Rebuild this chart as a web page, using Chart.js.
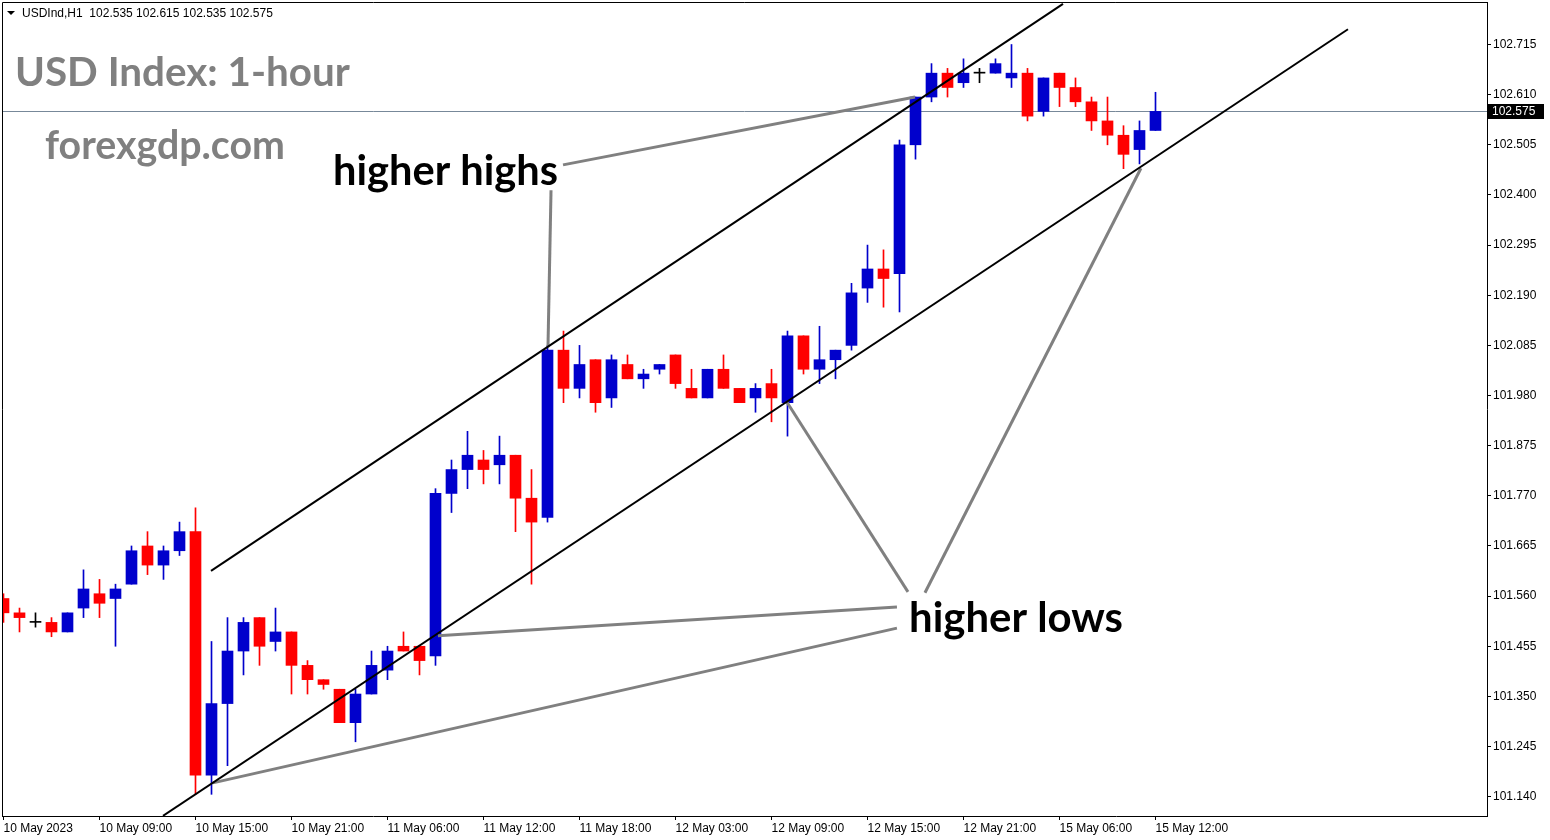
<!DOCTYPE html>
<html>
<head>
<meta charset="utf-8">
<script src="https://cdn.jsdelivr.net/npm/chart.js@4.4.0/dist/chart.umd.min.js"></script>
<style>
  html, body { margin: 0; padding: 0; background: #fff; }
  #wrap { width: 1550px; height: 840px; position: relative; }
</style>
</head>
<body>
<div id="wrap"><canvas id="usdChart"></canvas></div>
<script>
// USDInd H1 candles, 10 May 03:00 -> 15 May 12:00
const opens = [
  101.555, 101.525, 101.505, 101.505, 101.485, 101.535, 101.565, 101.555, 101.585, 101.665,
  101.625, 101.655, 101.695, 101.185, 101.335, 101.445, 101.515, 101.465, 101.485, 101.415,
  101.385, 101.365, 101.295, 101.355, 101.405, 101.455, 101.455, 101.435, 101.775, 101.825,
  101.845, 101.835, 101.855, 101.765, 101.725, 102.075, 101.995, 102.055, 101.975, 102.045,
  102.015, 102.035, 102.065, 101.995, 101.975, 102.035, 101.995, 101.975, 102.005, 101.965,
  102.105, 102.035, 102.055, 102.085, 102.205, 102.245, 102.235, 102.505, 102.605, 102.655,
  102.635, 102.655, 102.655, 102.645, 102.655, 102.575, 102.655, 102.625, 102.595, 102.555,
  102.525, 102.495, 102.535
];
const highs = [
  101.565, 101.535, 101.525, 101.515, 101.525, 101.615, 101.595, 101.585, 101.665, 101.695,
  101.665, 101.715, 101.745, 101.465, 101.515, 101.515, 101.515, 101.535, 101.485, 101.425,
  101.385, 101.365, 101.365, 101.445, 101.455, 101.485, 101.455, 101.785, 101.845, 101.905,
  101.865, 101.895, 101.855, 101.825, 102.085, 102.115, 102.085, 102.055, 102.065, 102.065,
  102.035, 102.045, 102.065, 102.035, 102.035, 102.065, 101.995, 102.005, 102.035, 102.115,
  102.105, 102.125, 102.075, 102.215, 102.295, 102.285, 102.515, 102.605, 102.675, 102.665,
  102.685, 102.665, 102.685, 102.715, 102.665, 102.645, 102.655, 102.645, 102.605, 102.605,
  102.545, 102.555, 102.615
];
const lows = [
  101.505, 101.485, 101.495, 101.475, 101.485, 101.515, 101.515, 101.455, 101.585, 101.605,
  101.595, 101.645, 101.145, 101.145, 101.205, 101.395, 101.415, 101.445, 101.355, 101.355,
  101.365, 101.295, 101.255, 101.355, 101.385, 101.445, 101.395, 101.415, 101.735, 101.785,
  101.795, 101.795, 101.695, 101.585, 101.715, 101.965, 101.975, 101.945, 101.955, 102.015,
  101.995, 102.025, 101.995, 101.975, 101.975, 101.995, 101.965, 101.945, 101.925, 101.895,
  102.025, 102.005, 102.015, 102.075, 102.175, 102.165, 102.155, 102.475, 102.595, 102.605,
  102.625, 102.635, 102.655, 102.625, 102.555, 102.565, 102.585, 102.585, 102.535, 102.505,
  102.455, 102.465, 102.535
];
const closes = [
  101.525, 101.515, 101.505, 101.485, 101.525, 101.575, 101.545, 101.575, 101.655, 101.625,
  101.655, 101.695, 101.185, 101.335, 101.445, 101.505, 101.455, 101.485, 101.415, 101.385,
  101.375, 101.295, 101.355, 101.415, 101.445, 101.445, 101.425, 101.775, 101.825, 101.855,
  101.825, 101.855, 101.765, 101.715, 102.075, 101.995, 102.045, 101.965, 102.055, 102.015,
  102.025, 102.045, 102.005, 101.975, 102.035, 101.995, 101.965, 101.995, 101.975, 102.105,
  102.035, 102.055, 102.075, 102.195, 102.245, 102.225, 102.505, 102.605, 102.655, 102.625,
  102.655, 102.655, 102.675, 102.655, 102.565, 102.645, 102.625, 102.595, 102.555, 102.525,
  102.485, 102.535, 102.575
];

const xTickIndex = [0, 6, 12, 18, 24, 30, 36, 42, 48, 54, 60, 66, 72];
const xTickLabels = [
  "10 May 2023", "10 May 09:00", "10 May 15:00", "10 May 21:00", "11 May 06:00",
  "11 May 12:00", "11 May 18:00", "12 May 03:00", "12 May 09:00", "12 May 15:00",
  "12 May 21:00", "15 May 06:00", "15 May 12:00"
];
const priceTicks = [
  101.140, 101.245, 101.350, 101.455, 101.560, 101.665, 101.770, 101.875,
  101.980, 102.085, 102.190, 102.295, 102.400, 102.505, 102.610, 102.715
];

// drawn lines, as [candle index, price] pairs
const channelUpper = [[12.97, 101.613], [66.22, 102.800]];
const channelLower = [[9.97, 101.100], [84.03, 102.747]];
const highPointers = [
  [[34.97, 102.463], [56.97, 102.605]],
  [[34.22, 102.410], [34.03, 102.081]]
];
const lowPointers = [
  [[48.97, 101.966], [56.53, 101.569]],
  [[71.09, 102.456], [57.59, 101.567]],
  [[27.15, 101.477], [55.84, 101.537]],
  [[13.09, 101.169], [55.84, 101.493]]
];
const highLabel = { text: "higher highs", at: [20.6, 102.421] };
const lowLabel = { text: "higher lows", at: [56.6, 101.485] };

const BLUE = "#0000cc", RED = "#ff0000";
const last = closes.length - 1;

function candleColor(i) {
    if (closes[i] > opens[i]) return BLUE;
    if (closes[i] < opens[i]) return RED;
    return "#000000";
}
const colors = opens.map((o, i) => candleColor(i));

function lineSet(pts, color, width) {
    return {
        type: "line",
        data: pts.map((p) => ({ x: p[0], y: p[1] })),
        borderColor: color,
        borderWidth: width,
        pointRadius: 0,
        fill: false,
        tension: 0,
        order: 1,
    };
}

function fitSize(ctx, text, width, family) {
    ctx.font = "bold 100px " + family;
    return (100 * width) / ctx.measureText(text).width;
}

// no extra room for edge labels, the plot goes right to the frame
function noPad(s) {
    s.paddingTop = 0;
    s.paddingBottom = 0;
    s.paddingLeft = 0;
    s.paddingRight = 0;
}

const overlay = {
    id: "overlay",
    beforeDatasetsDraw(chart) {
        const { ctx, chartArea, scales } = chart;
        const y = Math.round(scales.y.getPixelForValue(closes[last])) + 0.5;
        ctx.save();
        ctx.strokeStyle = "#778899";
        ctx.lineWidth = 1;
        ctx.beginPath();
        ctx.moveTo(chartArea.left, y);
        ctx.lineTo(chartArea.right, y);
        ctx.stroke();
        ctx.restore();
    },
    afterDatasetsDraw(chart) {
        const { ctx, scales } = chart;
        ctx.save();
        ctx.fillStyle = "#808080";
        ctx.textBaseline = "alphabetic";
        let s = fitSize(ctx, "USD Index: 1-hour", 335, "Lato");
        ctx.font = "bold " + s + "px Lato";
        ctx.fillText("USD Index: 1-hour", 15, 86);
        s = fitSize(ctx, "forexgdp.com", 240, "Lato");
        ctx.font = "bold " + s + "px Lato";
        ctx.fillText("forexgdp.com", 45, 159);

        ctx.fillStyle = "#000000";
        [[highLabel, 225], [lowLabel, 214]].forEach(([lab, w]) => {
            const size = fitSize(ctx, lab.text, w, "Lato");
            ctx.font = "bold " + size + "px Lato";
            ctx.fillText(lab.text, scales.x.getPixelForValue(lab.at[0]), scales.y.getPixelForValue(lab.at[1]));
        });
        ctx.restore();
    },
    afterDraw(chart) {
        const { ctx, chartArea, scales } = chart;
        ctx.save();
        ctx.strokeStyle = "#000";
        ctx.lineWidth = 1;
        ctx.beginPath();
        ctx.moveTo(chartArea.left + 0.5, chartArea.bottom);
        ctx.lineTo(chartArea.left + 0.5, chartArea.top + 0.5);
        ctx.lineTo(chartArea.right, chartArea.top + 0.5);
        ctx.stroke();

        // header
        ctx.fillStyle = "#000";
        ctx.beginPath();
        ctx.moveTo(7, 11);
        ctx.lineTo(15, 11);
        ctx.lineTo(11, 15);
        ctx.closePath();
        ctx.fill();
        ctx.font = "12px 'Liberation Sans'";
        ctx.textBaseline = "alphabetic";
        const f = (v) => v.toFixed(3);
        ctx.fillText("USDInd,H1  " + [opens[last], highs[last], lows[last], closes[last]].map(f).join(" "), 22, 17);

        // current price box
        const y = Math.round(scales.y.getPixelForValue(closes[last]));
        ctx.fillRect(chartArea.right, y - 7, 57, 15);
        ctx.fillStyle = "#fff";
        ctx.textBaseline = "middle";
        ctx.fillText(f(closes[last]), chartArea.right + 5, y + 1);
        ctx.restore();
    },
};

const datasets = [
    {
        type: "bar",
        data: opens.map((o, i) => ({ x: i, y: [o, closes[i]] })),
        backgroundColor: colors,
        barThickness: 11,
        minBarLength: 1,
        grouped: false,
        order: 2,
    },
    {
        type: "bar",
        data: lows.map((l, i) => ({ x: i, y: [l, highs[i]] })),
        backgroundColor: colors,
        barThickness: 1,
        grouped: false,
        order: 3,
    },
    lineSet(channelUpper, "#000000", 2),
    lineSet(channelLower, "#000000", 2),
];
highPointers.concat(lowPointers).forEach((p) => datasets.push(lineSet(p, "#808080", 3)));

const axisFont = { family: "'Liberation Sans'", size: 12 };

new Chart(document.getElementById("usdChart"), {
    type: "bar",
    data: { datasets: datasets },
    options: {
        responsive: true,
        maintainAspectRatio: false,
        animation: false,
        layout: { padding: { left: 2, top: 2, right: 0, bottom: 0 } },
        plugins: { legend: { display: false }, tooltip: { enabled: false } },
        scales: {
            x: {
                type: "linear",
                offset: false,
                min: -1.5 / 16,
                max: -1.5 / 16 + 1485 / 16,
                afterBuildTicks: (s) => { s.ticks = xTickIndex.map((v) => ({ value: v })); },
                afterFit: (s) => { s.height = 24; noPad(s); },
                grid: { offset: false, drawOnChartArea: false, drawTicks: true, tickLength: 4, color: "#000" },
                border: { display: true, color: "#000" },
                ticks: {
                    align: "start",
                    autoSkip: false,
                    maxRotation: 0,
                    padding: 1,
                    color: "#000",
                    font: axisFont,
                    callback: (v, i) => xTickLabels[i],
                },
            },
            y: {
                type: "linear",
                position: "right",
                min: 101.0996,
                max: 102.804,
                afterBuildTicks: (s) => { s.ticks = priceTicks.map((v) => ({ value: v })); },
                afterFit: (s) => { s.width = 63; noPad(s); },
                grid: { drawOnChartArea: false, drawTicks: true, tickLength: 4, color: "#000" },
                border: { display: true, color: "#000" },
                ticks: { padding: 2, color: "#000", font: axisFont, callback: (v) => v.toFixed(3) },
            },
        },
    },
    plugins: [overlay],
});
</script>
</body>
</html>
